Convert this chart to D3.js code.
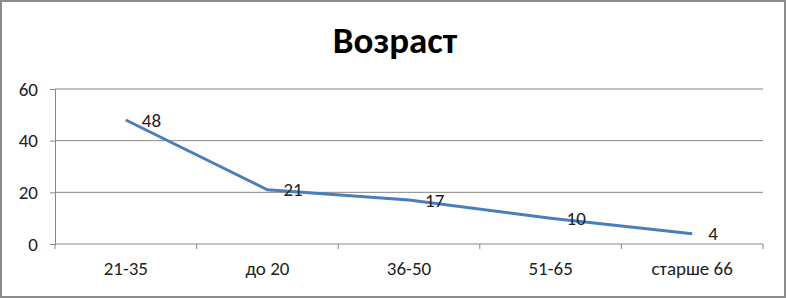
<!DOCTYPE html>
<html>
<head>
<meta charset="utf-8">
<script src="https://cdn.jsdelivr.net/npm/d3@7"></script>
<style>
  body { margin: 0; background: #fff; }
  text { font-family: Carlito, "Liberation Sans Narrow", "Open Sans", sans-serif; }
</style>
</head>
<body>
<div id="chart"></div>
<script>
var categories = ['21-35', 'до 20', '36-50', '51-65', 'старше 66'];
var values = [48, 21, 17, 10, 4];
var yTicks = [0, 20, 40, 60];
var title = 'Возраст';

var drawChart = function(){
  var width = 786, height = 298;
  var plotLeft = 55, plotRight = 763, plotTop = 89, plotBottom = 244;

  var svg = d3.select('#chart').append('svg')
    .attr('width', width)
    .attr('height', height);

  // outer frame
  svg.append('rect')
    .attr('x', 1).attr('y', 1)
    .attr('width', width - 2).attr('height', height - 2)
    .attr('fill', '#fff')
    .attr('stroke', '#8c8c8c')
    .attr('stroke-width', 2);

  svg.append('text')
    .attr('x', 395)
    .attr('y', 53)
    .attr('text-anchor', 'middle')
    .attr('font-size', 37)
    .attr('font-weight', 'bold')
    .text(title);

  var x = d3.scaleBand().domain(categories).range([plotLeft, plotRight]);
  var y = d3.scaleLinear().domain([0, 60]).range([plotBottom, plotTop]);

  // gridlines
  svg.selectAll('.grid')
    .data(yTicks.slice(1))
    .enter().append('line')
    .attr('x1', plotLeft).attr('x2', plotRight)
    .attr('y1', function(d){ return y(d); })
    .attr('y2', function(d){ return y(d); })
    .attr('stroke', '#868686')
    .attr('stroke-width', 1);

  var yAxis = svg.append('g')
    .attr('transform', 'translate(' + plotLeft + ',0)')
    .call(d3.axisLeft(y).tickValues(yTicks).tickSize(5).tickPadding(12));
  yAxis.selectAll('text').attr('font-size', 19).attr('fill', '#222');

  var xAxis = svg.append('g')
    .attr('transform', 'translate(0,' + plotBottom + ')')
    .call(d3.axisBottom(x).tickSize(0).tickPadding(18));
  xAxis.selectAll('text').attr('font-size', 19).attr('fill', '#222');
  xAxis.select('.domain').attr('d', 'M' + plotLeft + ',0H' + plotRight);

  // x ticks on band boundaries
  var bounds = categories.map(function(c){ return x(c); }).concat([plotRight]);
  svg.selectAll('.xtick')
    .data(bounds)
    .enter().append('line')
    .attr('x1', function(d){ return d; })
    .attr('x2', function(d){ return d; })
    .attr('y1', plotBottom).attr('y2', plotBottom + 5)
    .attr('stroke', '#868686');

  svg.selectAll('.domain').attr('stroke', '#868686');
  yAxis.selectAll('.tick line').attr('stroke', '#868686');

  var line = d3.line()
    .x(function(d, i){ return x(categories[i]) + x.bandwidth() / 2; })
    .y(function(d){ return y(d); });

  svg.append('path')
    .datum(values)
    .attr('d', line)
    .attr('fill', 'none')
    .attr('stroke', '#4a7ebb')
    .attr('stroke-width', 3);

  svg.selectAll('.lbl')
    .data(values)
    .enter().append('text')
    .attr('x', function(d, i){ return x(categories[i]) + x.bandwidth() / 2 + 16; })
    .attr('y', function(d){ return y(d); })
    .attr('dy', '0.35em')
    .attr('font-size', 19)
    .attr('fill', '#222')
    .text(function(d){ return d; });
};

drawChart();
</script>
</body>
</html>
